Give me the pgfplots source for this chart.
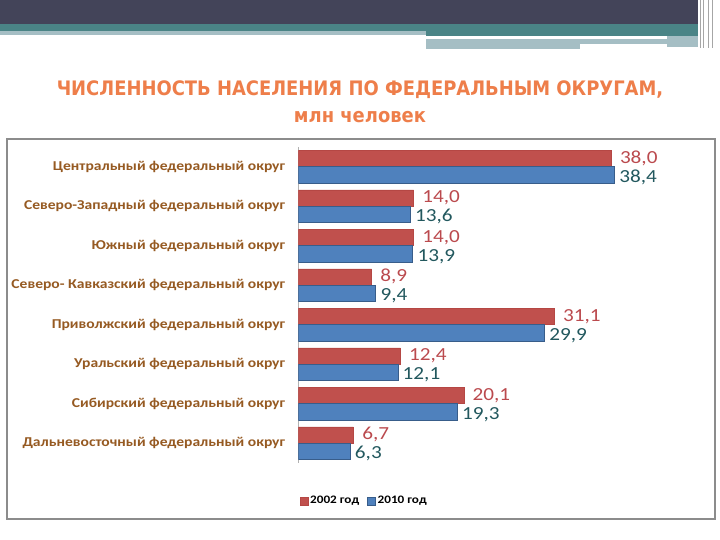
\documentclass[border=0pt]{standalone}
\usepackage{fontspec}
\setmainfont{Carlito}[FakeStretch=1.15]
\newfontfamily\titlefont{DejaVu Sans Condensed}
\usepackage{pgfplots}
\pgfplotsset{compat=1.18}
\definecolor{darkband}{HTML}{434459}
\definecolor{tealband}{HTML}{4A8486}
\definecolor{lightband}{HTML}{A5BEC4}
\definecolor{titleor}{HTML}{EE7E4A}
\definecolor{catbrown}{HTML}{965A22}
\definecolor{barred}{HTML}{C0504D}
\definecolor{barblue}{HTML}{4F81BD}
\definecolor{edgered}{HTML}{B54744}
\definecolor{edgeblue}{HTML}{385D8A}
\definecolor{labred}{HTML}{BB4A4E}
\definecolor{labblue}{HTML}{22585E}
\definecolor{framegray}{HTML}{8C8C8C}
\definecolor{gridgray}{HTML}{D9D9D9}
\begin{document}
\begin{tikzpicture}[x=1bp,y=1bp]
\path[use as bounding box, fill=white] (0,0) rectangle (720,540);
% decorative top bands
\fill[darkband] (0,516) rectangle (698,540);
\fill[tealband] (0,509) rectangle (426,516);
\fill[tealband] (426,504) rectangle (698,516);
\fill[lightband] (0,505) rectangle (426,509);
\fill[lightband] (426,496) rectangle (667,501);
\fill[lightband] (426,491) rectangle (580,496);
\fill[lightband] (667,493) rectangle (698,504);
\foreach \xx in {700,703,708,712} \draw[gray!70, line width=0.6] (\xx,492) -- (\xx,540);
% title
\node[text=titleor, font=\titlefont\bfseries\fontsize{20}{27}\selectfont, align=center] at (360,438)
  {ЧИСЛЕННОСТЬ НАСЕЛЕНИЯ ПО ФЕДЕРАЛЬНЫМ ОКРУГАМ,\\млн человек};
% chart frame
\draw[framegray, line width=1.3] (7,21) rectangle (715,401);
\begin{axis}[
  at={(298.3bp,77bp)}, anchor=south west,
  scale only axis, width=411.7bp, height=316bp,
  xbar, bar width=16.3bp,
  xmin=0, xmax=50, ymin=-0.5, ymax=7.5,
  axis x line=none, axis y line*=left,
  y axis line style={gray!60, line width=0.8bp},
  xtick={10,20,30,40,50}, xticklabels={},
  xmajorgrids, major grid style={gridgray, line width=0.8bp},
  ytick={0,...,7},
  yticklabels={Дальневосточный федеральный округ, Сибирский федеральный округ, Уральский федеральный округ, Приволжский федеральный округ, Северо- Кавказский федеральный округ, Южный федеральный округ, Северо-Западный федеральный округ, Центральный федеральный округ},
  major tick length=0pt,
  yticklabel style={font=\bfseries\fontsize{13.6}{16}\selectfont, text=catbrown, anchor=east, inner sep=0pt, xshift=-13bp},
  /pgf/number format/.cd, fixed, fixed zerofill, precision=1, use comma, assume math mode=true,
  /pgfplots/.cd,
  nodes near coords,
  legend style={at={(0.16,-0.12)}, anchor=center, draw=none, fill=none, legend columns=-1,
    font=\bfseries\fontsize{11.5}{14}\selectfont, inner sep=0pt,
    /tikz/every even column/.append style={column sep=6bp}},
  legend image code/.code={\draw[#1, line width=0.5bp] (0bp,-4bp) rectangle (8bp,4bp);},
]
\addplot[fill=barred, draw=edgered, line width=0.6bp, bar shift=8.15bp,
  nodes near coords style={anchor=base west, inner sep=0pt, xshift=8.5bp, yshift=-4.5bp, text=labred, font=\fontsize{18.5}{22}\selectfont}]
  coordinates {(38.0,7) (14.0,6) (14.0,5) (8.9,4) (31.1,3) (12.4,2) (20.1,1) (6.7,0)};
\addplot[fill=barblue, draw=edgeblue, line width=0.6bp, bar shift=-8.15bp,
  nodes near coords style={anchor=base west, inner sep=0pt, xshift=4.5bp, yshift=-7.5bp, text=labblue, font=\fontsize{18.5}{22}\selectfont}]
  coordinates {(38.4,7) (13.6,6) (13.9,5) (9.4,4) (29.9,3) (12.1,2) (19.3,1) (6.3,0)};
\legend{2002 год, 2010 год}
\end{axis}
\end{tikzpicture}
\end{document}
